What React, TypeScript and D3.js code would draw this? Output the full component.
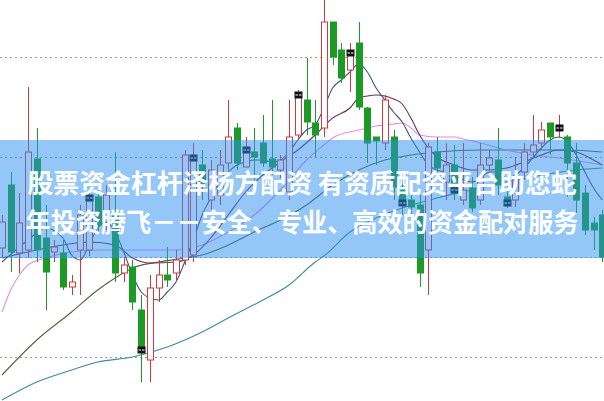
import { useEffect, useRef } from 'react'
import * as d3 from 'd3'

const W = 604
const H = 401

// daily candles
const opens = [12.09, 12.72, 12.04, 12.07, 12.98, 12.19, 12.05, 12.04, 11.70, 12.07,
  12.07, 12.60, 12.35, 12.44, 11.84, 11.90, 11.47, 10.97, 11.69, 11.82,
  11.84, 11.97, 12.02, 12.92, 12.57, 12.62, 12.94, 13.29, 12.90, 13.05,
  13.14, 12.98, 12.87, 12.65, 13.22, 13.57, 13.34, 13.29, 14.35, 14.07,
  13.87, 14.14, 13.49, 13.20, 13.14, 13.20, 12.67, 12.57, 12.52, 12.07,
  13.05, 12.75, 12.92, 12.57, 12.69, 12.57, 12.92, 12.97, 12.60, 12.57,
  12.85, 13.05, 13.14, 13.34, 13.29, 13.20, 12.94, 12.64, 12.34, 12.42]
const closes = [12.35, 12.05, 12.34, 13.05, 12.07, 11.85, 12.10, 11.70, 11.75, 12.42,
  12.59, 12.32, 12.62, 11.84, 11.92, 11.55, 11.07, 11.69, 11.82, 11.77,
  11.97, 13.02, 12.99, 12.72, 12.87, 12.92, 13.20, 12.94, 13.07, 13.00,
  12.94, 12.90, 12.97, 13.20, 13.62, 13.35, 13.22, 14.35, 14.00, 13.79,
  14.04, 13.50, 13.14, 13.16, 13.57, 12.70, 12.54, 12.50, 11.84, 13.10,
  12.89, 12.92, 12.67, 12.67, 12.49, 12.92, 12.99, 12.72, 12.54, 12.77,
  13.05, 13.12, 13.27, 13.20, 13.29, 12.94, 12.57, 12.27, 12.27, 12.00]
const highs = [12.42, 12.85, 12.64, 13.70, 13.29, 12.52, 12.17, 12.17, 11.82, 12.52,
  12.65, 12.72, 12.72, 13.05, 12.00, 11.97, 11.62, 11.82, 11.97, 12.10,
  12.07, 13.07, 13.14, 13.07, 12.97, 13.07, 13.57, 13.34, 13.20, 13.29,
  13.42, 13.57, 13.02, 13.57, 13.67, 13.99, 13.57, 14.60, 14.35, 14.14,
  14.14, 14.35, 13.50, 13.20, 13.62, 13.27, 12.77, 12.72, 12.62, 13.14,
  13.20, 13.14, 13.12, 13.14, 12.80, 13.14, 13.07, 13.29, 12.72, 13.00,
  13.14, 13.42, 13.35, 13.34, 13.42, 13.22, 13.14, 12.72, 12.40, 12.47]
const lows = [12.00, 11.85, 11.84, 11.99, 11.95, 11.47, 11.95, 11.67, 11.62, 11.62,
  12.01, 12.25, 12.27, 11.75, 11.75, 11.47, 10.75, 10.75, 11.55, 11.70,
  11.77, 11.92, 11.95, 12.57, 12.47, 12.52, 12.87, 12.87, 12.90, 12.77,
  12.90, 12.82, 12.79, 12.57, 13.17, 13.22, 13.00, 13.20, 13.92, 13.74,
  13.65, 13.47, 12.94, 12.92, 13.07, 12.57, 12.42, 12.42, 11.70, 11.62,
  12.77, 12.57, 12.57, 12.52, 12.45, 12.52, 12.87, 12.62, 12.49, 12.50,
  12.77, 13.00, 13.07, 13.02, 13.19, 12.60, 12.44, 12.22, 12.07, 11.95]

// candles flagged with a black box at the close
const markerIdx = [10, 16, 22, 28, 34, 40, 46, 52, 58, 64]

const gridPrices = [14, 13, 12, 11]

// moving averages as [candle index, price]
const ma5: [number, number][] = [[0, 11.95], [3, 12.17], [5, 12.29], [7, 12.19], [8, 12.02], [9, 11.97],
  [10, 12.12], [11, 12.29], [12, 12.35], [13, 12.25], [14, 12.05], [15, 11.82], [16, 11.65], [17, 11.59],
  [18, 11.57], [19, 11.65], [20, 11.75], [21, 11.95], [22, 12.17], [23, 12.42], [24, 12.59], [25, 12.75],
  [26, 12.85], [27, 12.92], [28, 12.95], [29, 12.97], [30, 12.97], [31, 12.95], [32, 12.97], [33, 13.05],
  [34, 13.17], [35, 13.27], [36, 13.32], [37, 13.49], [38, 13.69], [39, 13.77], [40, 13.85], [41, 13.93],
  [42, 13.85], [43, 13.69], [44, 13.57], [45, 13.45], [46, 13.35], [47, 13.19], [48, 13.05], [49, 12.92],
  [50, 12.87], [51, 12.85], [52, 12.82], [53, 12.77], [54, 12.75], [55, 12.79], [56, 12.85], [57, 12.85],
  [58, 12.79], [59, 12.82], [60, 12.89], [61, 12.99], [62, 13.09], [63, 13.17], [64, 13.20], [65, 13.15],
  [66, 13.02], [67, 12.85], [68, 12.69], [69, 12.57]]
const ma10: [number, number][] = [[0, 11.99], [4, 12.07], [7, 12.12], [10, 12.15], [13, 12.12], [15, 11.99],
  [17, 11.94], [20, 11.95], [22, 12.02], [24, 12.19], [26, 12.42], [28, 12.65], [30, 12.82], [32, 12.95],
  [34, 13.07], [36, 13.22], [38, 13.39], [40, 13.49], [41, 13.59], [42, 13.61], [43, 13.62], [44, 13.61],
  [45, 13.58], [46, 13.53], [47, 13.39], [48, 13.22], [49, 13.09], [50, 13.00], [52, 12.92], [54, 12.87],
  [56, 12.87], [58, 12.89], [60, 12.95], [62, 13.02], [64, 13.07], [66, 13.05], [68, 12.97], [69, 12.92]]
const ma20: [number, number][] = [[0, 11.45], [1, 11.67], [2, 11.82], [3, 11.92], [5, 11.99], [8, 12.05],
  [11, 12.07], [14, 12.07], [17, 12.07], [20, 12.07], [23, 12.12], [26, 12.25], [29, 12.42], [32, 12.67],
  [35, 12.97], [37, 13.12], [38, 13.19], [41, 13.27], [43, 13.31], [45, 13.33], [46, 13.34], [47, 13.29],
  [48, 13.22], [50, 13.20], [52, 13.20], [53, 13.18], [55, 13.14], [58, 13.07], [61, 13.02], [64, 12.99],
  [67, 12.95], [69, 12.92]]
const ma30: [number, number][] = [[0, 10.82], [4, 11.17], [8, 11.45], [11, 11.67], [13, 11.79], [15, 11.89],
  [18, 11.95], [21, 11.99], [23, 12.02], [26, 12.12], [29, 12.25], [32, 12.37], [35, 12.52], [38, 12.72],
  [41, 12.87], [44, 12.97], [47, 13.02], [50, 13.05], [55, 13.07], [60, 13.07], [65, 13.07], [69, 13.05]]
const ma60: [number, number][] = [[0, 10.57], [4, 10.75], [8, 10.87], [11, 10.95], [15, 11.00], [19, 11.10],
  [23, 11.25], [26, 11.39], [30, 11.57], [33, 11.72], [36, 11.95], [37, 12.01], [40, 12.25], [42, 12.35],
  [45, 12.46], [46, 12.49], [50, 12.59], [54, 12.67], [58, 12.75], [62, 12.82], [66, 12.87], [69, 12.89]]

const bannerLines = ['股票资金杠杆泽杨方配资 有资质配资平台助您蛇', '年投资腾飞－－安全、专业、高效的资金配对服务']

export default function App() {
  const svgRef = useRef<SVGSVGElement>(null)

  useEffect(() => {
    if (!svgRef.current) return
    const svg = d3.select(svgRef.current)
    svg.selectAll('*').remove()

    const x = d3.scaleLinear().domain([0, opens.length - 1]).range([2, 602.3])
    const y = d3.scaleLinear().domain([10.56, 14.57]).range([H, 0])
    const bodyW = 6
    const up = '#d4363c'
    const down = '#1c9a26'

    svg.append('rect').attr('width', W).attr('height', H).attr('fill', '#fff')

    // dotted price grid
    svg.selectAll('.grid')
      .data(gridPrices)
      .join('line')
      .attr('x1', 0).attr('x2', W)
      .attr('y1', d => Math.round(y(d)) + 0.5)
      .attr('y2', d => Math.round(y(d)) + 0.5)
      .attr('stroke', '#9a9a9a')
      .attr('stroke-dasharray', '2,3')

    const line = d3.line<[number, number]>()
      .x(d => x(d[0]))
      .y(d => y(d[1]))
      .curve(d3.curveMonotoneX)

    const mas: [[number, number][], string][] = [
      [ma60, '#3c8c98'],
      [ma30, '#56603f'],
      [ma20, '#e48be4'],
      [ma10, '#6d2d63'],
      [ma5, '#3b5670'],
    ]
    mas.forEach(([pts, color]) => {
      svg.append('path')
        .datum(pts)
        .attr('d', line)
        .attr('fill', 'none')
        .attr('stroke', color)
        .attr('stroke-width', 1.1)
    })

    const idx = d3.range(opens.length)
    const cx = (i: number) => Math.round(x(i)) + 0.5

    // wicks
    svg.selectAll('.wick')
      .data(idx)
      .join('line')
      .attr('x1', cx).attr('x2', cx)
      .attr('y1', i => y(highs[i]))
      .attr('y2', i => y(lows[i]))
      .attr('stroke', i => closes[i] >= opens[i] ? up : down)
      .attr('stroke-width', 1)

    // bodies: rising hollow red, falling solid green
    svg.selectAll('.body')
      .data(idx)
      .join('rect')
      .attr('x', i => cx(i) - bodyW / 2)
      .attr('y', i => y(Math.max(opens[i], closes[i])))
      .attr('width', bodyW)
      .attr('height', i => Math.max(1, Math.abs(y(opens[i]) - y(closes[i]))))
      .attr('fill', i => closes[i] >= opens[i] ? '#fff' : down)
      .attr('stroke', i => closes[i] >= opens[i] ? up : down)
      .attr('stroke-width', 1)

    // black flags
    const flags = svg.selectAll('.flag')
      .data(markerIdx)
      .join('g')
      .attr('transform', i => `translate(${cx(i)},${Math.round(y(closes[i])) + 0.5})`)
    flags.append('rect')
      .attr('x', -4).attr('y', -4).attr('width', 8).attr('height', 7)
      .attr('fill', '#111')
    flags.append('line')
      .attr('x1', -3).attr('x2', 3).attr('y1', -0.5).attr('y2', -0.5)
      .attr('stroke', '#fff').attr('stroke-width', 1)
    flags.append('line')
      .attr('x1', 0).attr('x2', 0).attr('y1', -3).attr('y2', 2)
      .attr('stroke', '#111').attr('stroke-width', 1)

    // translucent banner
    svg.append('rect')
      .attr('x', 0).attr('y', 140)
      .attr('width', W).attr('height', 118)
      .attr('fill', '#2a8ff0')
      .attr('fill-opacity', 0.5)

    svg.selectAll('.banner-text')
      .data(bannerLines)
      .join('text')
      .attr('x', 302)
      .attr('y', (_, i) => 181 + i * 39)
      .attr('text-anchor', 'middle')
      .attr('dominant-baseline', 'central')
      .attr('fill', '#fff')
      .attr('font-family', '"Noto Sans CJK SC", "Noto Sans", sans-serif')
      .attr('font-weight', 'bold')
      .attr('font-size', 26)
      .attr('textLength', (_, i) => i === 0 ? 549 : 553)
      .attr('lengthAdjust', 'spacingAndGlyphs')
      .text(d => d)
  }, [])

  return (
    <>
      <style>{'body{margin:0}'}</style>
      <svg ref={svgRef} width={W} height={H} style={{ display: 'block' }} />
    </>
  )
}
